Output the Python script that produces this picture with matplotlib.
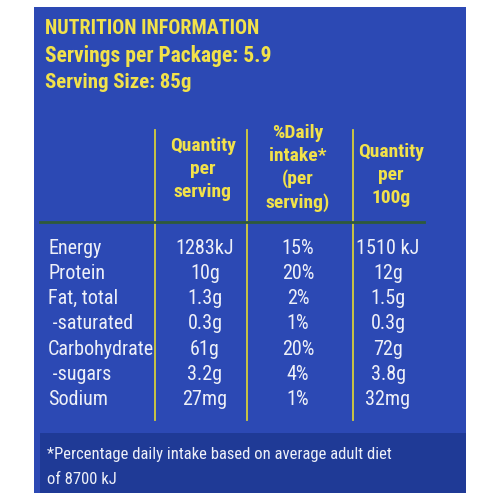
import matplotlib
matplotlib.use("Agg")
import matplotlib.pyplot as plt
from matplotlib.patches import Rectangle

title = "NUTRITION INFORMATION"
servings_line = "Servings per Package: 5.9"
size_line = "Serving Size: 85g"
headers = ["Quantity\nper\nserving", "%Daily\nintake*\n(per\nserving)", "Quantity\nper\n100g"]
nutrients = ["Energy", "Protein", "Fat, total", " -saturated", "Carbohydrate", " -sugars", "Sodium"]
per_serving = ["1283kJ", "10g", "1.3g", "0.3g", "61g", "3.2g", "27mg"]
daily_pct = ["15%", "20%", "2%", "1%", "20%", "4%", "1%"]
per_100g = ["1510 kJ", "12g", "1.5g", "0.3g", "72g", "3.8g", "32mg"]
footnote = "*Percentage daily intake based on average adult diet\nof 8700 kJ"

FAM = ["Roboto Condensed", "Liberation Sans Narrow", "DejaVu Sans"]
YEL = "#f2e24a"
WHITE = "#eef0f8"

fig = plt.figure(figsize=(5, 5), dpi=100)
ax = fig.add_axes([0, 0, 1, 1])
ax.set_xlim(0, 500)
ax.set_ylim(500, 0)
ax.axis("off")
fig.patch.set_facecolor("white")

ax.add_patch(Rectangle((34, 7), 432, 486, facecolor="#2c49b4", edgecolor="none"))
ax.add_patch(Rectangle((40, 433), 426, 60, facecolor="#1f3a96", edgecolor="none"))

ax.text(45, 28, title, color=YEL, fontsize=14.5, fontweight="bold", family=FAM, va="center", ha="left")
ax.text(45, 56, servings_line, color=YEL, fontsize=15.5, fontweight="bold", family=FAM, va="center", ha="left")
ax.text(45, 83, size_line, color=YEL, fontsize=15, fontweight="bold", family=FAM, va="center", ha="left")

col_x = [203, 298, 391]
head_y = [169, 168, 175]
for x, y, h in zip(col_x, head_y, headers):
    ax.text(x, y, h, color=YEL, fontsize=14, fontweight="bold", family=FAM, va="center", ha="center", linespacing=1.35)

for x in [155, 247, 353]:
    ax.plot([x, x], [130, 420], color="#d6cf3a", lw=1.3)
ax.plot([40, 424], [222, 222], color="#2f5a3a", lw=2)

row_y = [248 + 25.3 * i for i in range(len(nutrients))]
for y, n, a, b, c in zip(row_y, nutrients, per_serving, daily_pct, per_100g):
    ax.text(48, y, n, color=WHITE, fontsize=14.5, family=FAM, va="center", ha="left")
    ax.text(205, y, a, color=WHITE, fontsize=14.5, family=FAM, va="center", ha="center")
    ax.text(col_x[1], y, b, color=WHITE, fontsize=14.5, family=FAM, va="center", ha="center")
    ax.text(388, y, c, color=WHITE, fontsize=14.5, family=FAM, va="center", ha="center")

ax.text(47, 467, footnote, color=WHITE, fontsize=12, family=FAM, va="center", ha="left", linespacing=1.75)

fig.savefig("out.png", dpi=100)
